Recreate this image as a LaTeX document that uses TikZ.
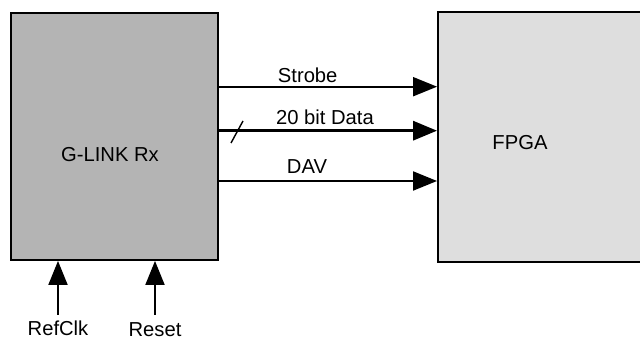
\documentclass[tikz,border=0pt]{standalone}
\usepackage{fontspec}
\setmainfont{Liberation Sans}
\usepackage{xcolor}
\usetikzlibrary{arrows.meta,positioning,calc}
\definecolor{RxGray}{HTML}{B4B4B4}
\definecolor{FpgaGray}{HTML}{DEDEDE}

\begin{document}
\begin{tikzpicture}[
	x=0.02cm, y=-0.02cm,
	font=\fontsize{11.5}{13}\selectfont,
	block/.style={draw, line width=1.1pt, inner sep=0pt},
	sig/.style={-{Triangle[length=0.48cm, width=0.38cm]}, line width=1.1pt},
	bus/.style={sig, line width=1.8pt},
	lbl/.style={inner sep=0pt}
]
\useasboundingbox (0,0) rectangle (640,340);

\node[block, fill=RxGray, minimum width=4.14cm, minimum height=4.94cm] (glink) at (114.5,136.5) {};
\node[block, fill=FpgaGray, minimum width=4.44cm, minimum height=5cm] (fpga) at (549,137) {};
\node[lbl] (glinktxt) at (110,155) {G-LINK Rx};
\node[lbl] (fpgatxt) at (520,143) {FPGA};

% signals into the FPGA
\draw[sig] (glink.east |- 0,86.7) -- (fpga.west |- 0,86.7);
\draw[bus] (glink.east |- 0,130.7) -- (fpga.west |- 0,130.7);
\draw[sig] (glink.east |- 0,181) -- (fpga.west |- 0,181);
\node[lbl] (strobe) at (307.7,75.5) {Strobe};
\node[lbl] (data) at (325,117.5) {20 bit Data};
\node[lbl] (dav) at (307,167) {DAV};
\coordinate (slashlo) at (231,143);
\coordinate (slashhi) at (243,121);
\draw[line width=0.8pt] (slashlo) -- (slashhi);

% inputs from below
\node[lbl] (refclk) at (58,328) {RefClk};
\node[lbl] (reset) at (155,330) {Reset};
\coordinate (refclkin) at (58,315);
\coordinate (resetin) at (155,315);
\draw[sig] (refclkin) -- (glink.south -| refclkin);
\draw[sig] (resetin) -- (glink.south -| resetin);
\end{tikzpicture}
\end{document}
